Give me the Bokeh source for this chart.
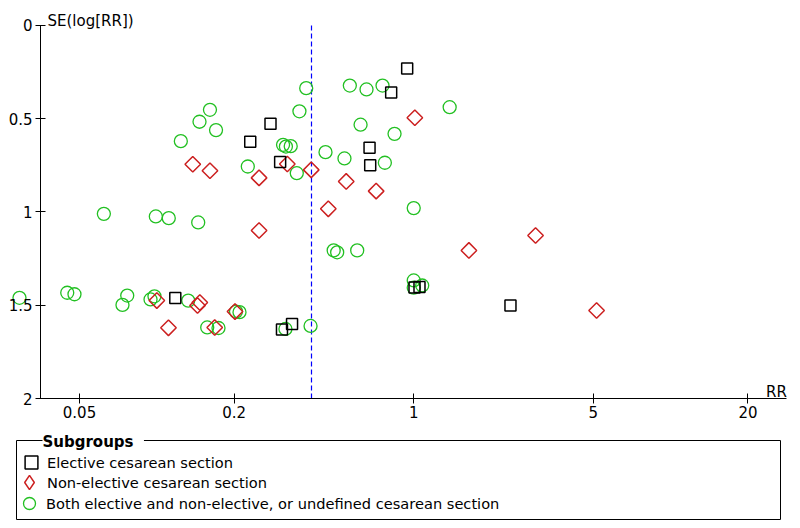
import math
from bokeh.plotting import figure
from bokeh.models import Range1d, FixedTicker, Label, Legend, LegendItem, BoxAnnotation
from bokeh.embed import file_html
from bokeh.resources import INLINE

# ---- data ----
elective_rr = [0.943, 0.817, 0.277, 0.231, 0.673, 0.677, 0.302, 0.118, 0.307, 0.336, 1.007, 1.053, 2.38]
elective_se = [0.231, 0.359, 0.527, 0.624, 0.656, 0.749, 0.732, 1.461, 1.630, 1.601, 1.405, 1.402, 1.501]

nonelective_rr = [1.01, 0.138, 0.161, 0.250, 0.322, 0.399, 0.546, 0.714, 0.465, 0.250,
                  2.98, 1.64, 0.100, 0.144, 0.147, 0.111, 0.168, 0.2015, 5.15]
nonelective_se = [0.495, 0.744, 0.779, 0.817, 0.743, 0.774, 0.836, 0.888, 0.983, 1.099,
                  1.126, 1.206, 1.475, 1.501, 1.485, 1.621, 1.619, 1.534, 1.528]

both_rr = [0.3815, 0.564, 0.655, 0.756, 1.38, 0.161, 0.1466, 0.170, 0.124, 0.359,
           0.621, 0.842, 0.310, 0.318, 0.332, 0.4535, 0.5375, 0.772, 0.226, 0.3506,
           1.0, 0.0622, 0.0991, 0.1113, 0.1449, 0.488, 0.5035, 0.6025, 0.0292, 0.0448,
           0.0478, 0.0767, 0.0735, 0.0945, 0.0979, 0.1325, 0.1571, 0.1738, 0.2033, 0.2098,
           0.3167, 0.3966, 1.0, 1.0, 1.079]
both_se = [0.336, 0.322, 0.343, 0.322, 0.438, 0.452, 0.516, 0.561, 0.620, 0.460,
           0.532, 0.581, 0.640, 0.649, 0.647, 0.679, 0.713, 0.736, 0.756, 0.792,
           0.979, 1.010, 1.024, 1.033, 1.056, 1.206, 1.216, 1.206, 1.460, 1.433,
           1.441, 1.448, 1.498, 1.469, 1.452, 1.475, 1.619, 1.622, 1.534, 1.537,
           1.627, 1.611, 1.367, 1.406, 1.394]

pooled_rr = 0.40

x_ticks = [0.05, 0.2, 1, 5, 20]
x_tick_labels = ["0.05", "0.2", "1", "5", "20"]
y_ticks = [0, 0.5, 1, 1.5, 2]
y_tick_labels = ["0", "0.5", "1", "1.5", "2"]

series_labels = ["Elective cesarean section",
                 "Non-elective cesarean section",
                 "Both elective and non-elective, or undefined cesarean section"]

# ---- layout constants ----
FONT = "DejaVu Sans"
FS = "15px"
LFS = "14.6px"
W, H = 800, 528
x_axis_lo, x_axis_hi = 10 ** -1.4528, 10 ** 1.4528
se_lo, se_hi = 0.0, 2.0

p = figure(width=W, height=H, x_axis_type="log",
           x_range=Range1d(0.02463, 32.03), y_range=Range1d(2.697, -0.134),
           output_backend="svg", toolbar_location=None,
           min_border=0, outline_line_color=None,
           background_fill_color="white", border_fill_color="white")
p.grid.visible = False

# axes
for ax in (p.xaxis, p.yaxis):
    ax.axis_line_color = "black"
    ax.axis_line_width = 1
    ax.major_tick_line_color = "black"
    ax.minor_tick_line_color = None
    ax.major_tick_in = 5
    ax.major_tick_out = 5
    ax.major_label_text_font = FONT
    ax.major_label_text_font_size = FS
    ax.major_label_text_color = "black"

p.xaxis.fixed_location = se_hi
p.xaxis.bounds = (x_axis_lo, x_axis_hi)
p.xaxis.ticker = FixedTicker(ticks=x_ticks)
p.xaxis.major_label_overrides = {t: s for t, s in zip(x_ticks, x_tick_labels)}
p.xaxis.major_label_standoff = 2

p.yaxis.fixed_location = x_axis_lo
p.yaxis.bounds = (se_lo, se_hi)
p.yaxis.ticker = FixedTicker(ticks=y_ticks)
p.yaxis.major_label_overrides = {t: s for t, s in zip(y_ticks, y_tick_labels)}
p.yaxis.major_label_standoff = 3

# axis titles
p.add_layout(Label(x=x_axis_lo, y=se_lo, text="SE(log[RR])", x_offset=7, y_offset=4,
                   text_font=FONT, text_font_size=FS, text_baseline="alphabetic",
                   text_align="left", text_color="black"))
p.add_layout(Label(x=x_axis_hi, y=se_hi, text="RR", x_offset=0, y_offset=7,
                   text_font=FONT, text_font_size=FS, text_baseline="alphabetic",
                   text_align="right", text_color="black"))

# pooled estimate line
p.segment(x0=[pooled_rr], y0=[se_lo], x1=[pooled_rr], y1=[se_hi],
          line_color="#0000ff", line_width=1.2, line_dash="5 3")

green = "#22c022"
red = "#cc2020"

r_both = p.scatter(both_rr, both_se, marker="circle", size=13, fill_color=None,
                   line_color=green, line_width=1.3)
p.scatter(nonelective_rr, nonelective_se, marker="square", angle=math.pi / 4, size=11,
          fill_color=None, line_color=red, line_width=1.5)
r_el = p.scatter(elective_rr, elective_se, marker="square", size=11, fill_color=None,
                 line_color="black", line_width=1.5)
# legend-only glyph for the diamond symbol
r_ne_leg = p.scatter([float("nan")], [float("nan")], marker="diamond", size=14,
                     fill_color=None, line_color=red, line_width=1.5)

# legend frame (fieldset style)
p.add_layout(BoxAnnotation(left=16, right=780, top=H - 440, bottom=H - 519,
                           left_units="screen", right_units="screen",
                           top_units="screen", bottom_units="screen",
                           fill_color="white", fill_alpha=1.0,
                           line_color="black", line_alpha=1.0, line_width=1,
                           level="underlay"))

legend_specs = [
    (series_labels[0], r_el, 32, (15, H - 478), 0),
    (series_labels[1], r_ne_leg, 36, (11, H - 500), 0),
    (series_labels[2], r_both, 30, (14, H - 518), 2),
]
for lab, rend, gsize, loc, standoff in legend_specs:
    lg = Legend(items=[LegendItem(label=lab, renderers=[rend])],
                location=loc, margin=0, padding=0,
                glyph_width=gsize, glyph_height=gsize, label_height=gsize,
                label_standoff=standoff,
                label_text_font=FONT, label_text_font_size=LFS, label_text_color="black",
                border_line_color=None, background_fill_alpha=0.0)
    p.add_layout(lg, "center")

p.add_layout(Label(x=42, y=H - 441, x_units="screen", y_units="screen", text=" Subgroups ",
                   text_font=FONT, text_font_size=FS, text_font_style="bold",
                   text_baseline="middle", text_align="left", text_color="black",
                   background_fill_color="white", background_fill_alpha=1.0,
                   level="overlay"))

open("out.html", "w").write(file_html(p, INLINE))
